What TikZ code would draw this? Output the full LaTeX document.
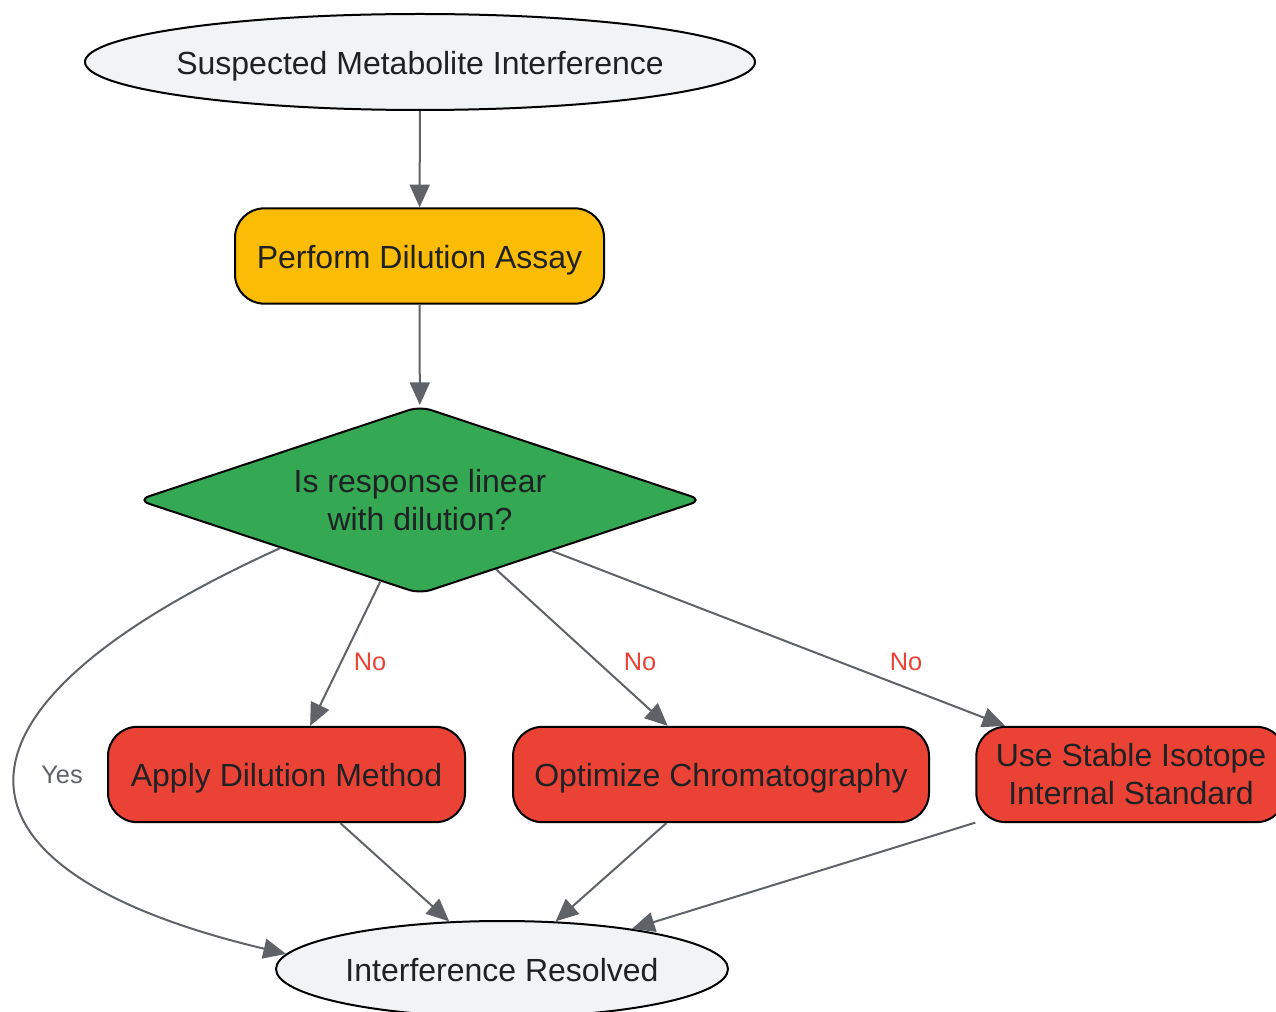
\documentclass[tikz,border=0pt]{standalone}
\usepackage{fontspec}
\setmainfont{Liberation Sans}
\usetikzlibrary{shapes.geometric,arrows.meta}
\definecolor{edgegray}{HTML}{5F6368}
\definecolor{txt}{HTML}{202124}
\definecolor{lightfill}{HTML}{F1F3F4}
\definecolor{yellowfill}{HTML}{FBBC05}
\definecolor{greenfill}{HTML}{34A853}
\definecolor{redfill}{HTML}{EA4335}
\tikzset{
  base/.style={draw=black, line width=1.5pt, text=txt, font=\fontsize{24}{28.5}\selectfont, align=center, inner sep=0pt},
  oneline/.style={text height=22.5pt, text depth=4pt},
  term/.style={base, oneline, ellipse, fill=lightfill, inner xsep=-30pt, minimum height=72pt},
  procbox/.style={base, rectangle, rounded corners=22pt, minimum height=71.5pt},
  decide/.style={base, diamond, fill=greenfill, aspect=3, rounded corners=9pt, minimum width=424pt, minimum height=141pt},
  conn/.style={draw=edgegray, line width=1.5pt, -{Triangle[length=17pt,width=15pt]}},
  nolab/.style={text=redfill, font=\fontsize{19}{22}\selectfont},
  yeslab/.style={text=edgegray, font=\fontsize{19}{22}\selectfont}
}
\begin{document}
\begin{tikzpicture}[x=0.75pt,y=-0.75pt]
\clip (0,0) rectangle (1276,1012);
\fill[white] (0,0) rectangle (1276,1012);
\node[term, minimum width=502.5pt] (start) at (420,62) {Suspected Metabolite Interference};
\node[procbox, oneline, fill=yellowfill, minimum width=276.75pt] (dil) at (419.5,256) {Perform Dilution Assay};
\node[decide] (dia) at (420,500) {Is response linear\\with dilution?};
\node[procbox, oneline, fill=redfill, minimum width=267.75pt] (apply) at (286.5,774.5) {Apply Dilution Method};
\node[procbox, oneline, fill=redfill, minimum width=312pt] (opt) at (721,774.5) {Optimize Chromatography};
\node[procbox, fill=redfill, minimum width=232pt] (iso) at (1131,774.5) {Use Stable Isotope\\Internal Standard};
\node[term, minimum width=339pt] (res) at (502,969) {Interference Resolved};

\draw[conn] (start) -- (dil);
\draw[conn] (dil) -- (dia);
\draw[conn] (dia) -- (apply);
\draw[conn] (dia) -- (opt);
\draw[conn] (dia) -- (iso);
\draw[conn] (apply) -- (res);
\draw[conn] (opt) -- (res);
\draw[conn] (iso) -- (res);
\draw[conn] (dia.199) .. controls (-78,710) and (-68,870) .. (res.176);

\node[nolab] (n1) at (370,662) {No};
\node[nolab] (n2) at (640,662) {No};
\node[nolab] (n3) at (906,662) {No};
\node[yeslab] (y1) at (62,775) {Yes};
\end{tikzpicture}
\end{document}
